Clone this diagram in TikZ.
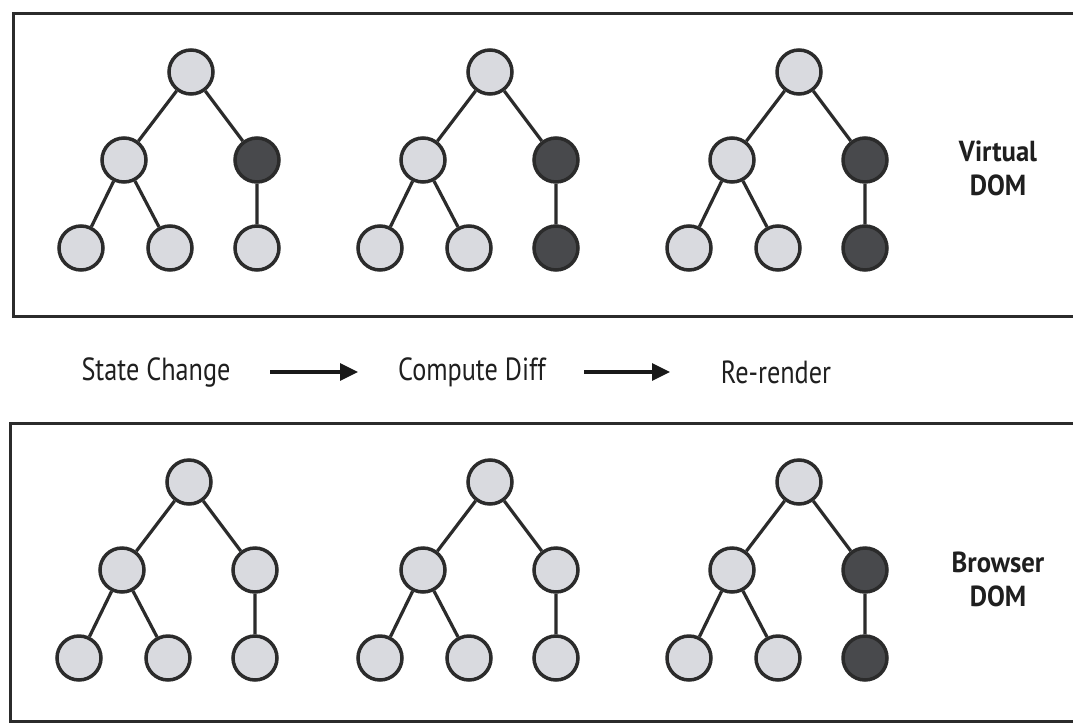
\documentclass[tikz,border=0pt]{standalone}
\usepackage{fontspec}
\newfontfamily\labfont{PT Sans}
\usetikzlibrary{arrows.meta,calc}
\definecolor{nodelight}{HTML}{D9DADF}
\definecolor{nodedark}{HTML}{48494C}
\definecolor{inkline}{HTML}{2B2B2B}
% narrow setting of a label
\newcommand\narrowtext[2]{\scalebox{#1}[1]{#2}}
\tikzset{
  dnode/.style={circle, draw=inkline, line width=3.5pt, minimum size=44pt, inner sep=0pt},
  lightnode/.style={dnode, fill=nodelight},
  darknode/.style={dnode, fill=nodedark},
  edge/.style={draw=inkline, line width=3.2pt},
  frame/.style={draw=inkline, line width=3pt},
  steplabel/.style={font=\labfont\fontsize{32}{36}\selectfont, text=black!88, inner sep=0pt},
  sidelabel/.style={font=\labfont\bfseries\fontsize{29}{34}\selectfont, text=black!88, align=center, inner sep=0pt},
  flowarrow/.style={line width=3.3pt, draw=black!90, -{Triangle[length=18pt,width=17pt]}}
}
% one small DOM tree: #1 name prefix, #2 root x, #3 root y,
% #4 style of the right middle node, #5 style of the right leaf
\newcommand\domtree[5]{%
  \node[lightnode] (#1r)  at (#2,#3) {};
  \node[lightnode] (#1ml) at ($(#2,#3)+(-67,88)$) {};
  \node[#4]        (#1mr) at ($(#2,#3)+(66,88)$) {};
  \node[lightnode] (#1la) at ($(#2,#3)+(-110,176)$) {};
  \node[lightnode] (#1lb) at ($(#2,#3)+(-21,176)$) {};
  \node[#5]        (#1lc) at ($(#2,#3)+(66,176)$) {};
  \path[edge] (#1r) -- (#1ml) (#1r) -- (#1mr)
              (#1ml) -- (#1la) (#1ml) -- (#1lb)
              (#1mr) -- (#1lc);
}
\begin{document}
\begin{tikzpicture}[x=1pt,y=-1pt]
\useasboundingbox[fill=white] (0,0) rectangle (1073,723);
\clip (0,0) rectangle (1073,723);

% frames
\draw[frame] (13,13) rectangle (1090,316);
\draw[frame] (10,423) rectangle (1090,721);

% virtual DOM trees
\domtree{va}{191}{72}{darknode}{lightnode}
\domtree{vb}{490}{72}{darknode}{darknode}
\domtree{vc}{799}{72}{darknode}{darknode}

% browser DOM trees
\domtree{ba}{189}{482}{lightnode}{lightnode}
\domtree{bb}{490}{482}{lightnode}{lightnode}
\domtree{bc}{799}{482}{darknode}{darknode}

\node[sidelabel] (vdom) at (998,168) {\narrowtext{0.92}{Virtual}\\\narrowtext{0.92}{DOM}};
\node[sidelabel] (bdom) at (998,579) {\narrowtext{0.92}{Browser}\\\narrowtext{0.92}{DOM}};

% update steps
\node[steplabel] (state) at (156,372) {\narrowtext{0.82}{State Change}};
\node[steplabel] (diff) at (472,372) {\narrowtext{0.82}{Compute Diff}};
\node[steplabel] (rerender) at (776,372) {\narrowtext{0.82}{Re-render}};
\coordinate (a1s) at (270,372);
\coordinate (a1e) at (358,372);
\coordinate (a2s) at (584,372);
\coordinate (a2e) at (670,372);
\draw[flowarrow] (a1s) -- (a1e);
\draw[flowarrow] (a2s) -- (a2e);
\end{tikzpicture}
\end{document}
